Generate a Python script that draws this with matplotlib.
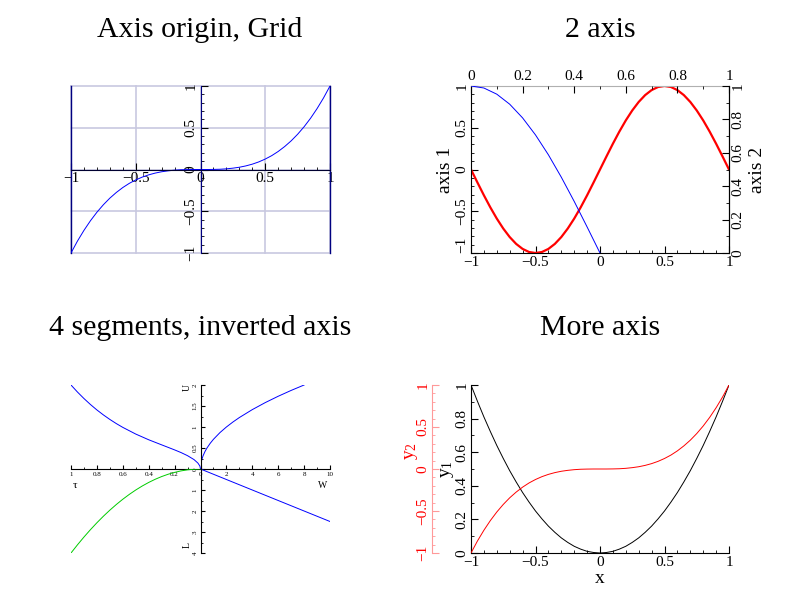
import numpy as np
import matplotlib.pyplot as plt
from matplotlib.ticker import AutoMinorLocator, FuncFormatter

plt.rcParams['font.family'] = ['Liberation Serif', 'DejaVu Serif']
plt.rcParams['mathtext.fontset'] = 'custom'
plt.rcParams['mathtext.rm'] = 'Liberation Serif'
plt.rcParams['mathtext.it'] = 'Liberation Serif:italic'
plt.rcParams['mathtext.default'] = 'regular'

# значення
x_full = np.linspace(-1, 1, 41)
cube_vals = [-1, -0.857, -0.729, -0.614, -0.512, -0.422, -0.343, -0.275, -0.216, -0.166, -0.125,
             -0.091, -0.064, -0.043, -0.027, -0.016, -0.008, -0.003, -0.001, 0, 0,
             0, 0.001, 0.003, 0.008, 0.016, 0.027, 0.043, 0.064, 0.091, 0.125,
             0.166, 0.216, 0.275, 0.343, 0.422, 0.512, 0.614, 0.729, 0.857, 1]
square_vals = [1, 0.903, 0.81, 0.723, 0.64, 0.563, 0.49, 0.423, 0.36, 0.303, 0.25,
               0.203, 0.16, 0.123, 0.09, 0.063, 0.04, 0.023, 0.01, 0.003, 0,
               0.003, 0.01, 0.023, 0.04, 0.063, 0.09, 0.123, 0.16, 0.203, 0.25,
               0.303, 0.36, 0.423, 0.49, 0.563, 0.64, 0.723, 0.81, 0.903, 1]

x_sin = np.linspace(-1, 1, 41)
sin_vals = [0, -0.156, -0.309, -0.454, -0.588, -0.707, -0.809, -0.891, -0.951, -0.988, -1,
            -0.988, -0.951, -0.891, -0.809, -0.707, -0.588, -0.454, -0.309, -0.156, 0,
            0.156, 0.309, 0.454, 0.588, 0.707, 0.809, 0.891, 0.951, 0.988, 1,
            0.988, 0.951, 0.891, 0.809, 0.707, 0.588, 0.454, 0.309, 0.156, 0]
x_cos = np.linspace(0, 0.5, 11)
cos_vals = [1, 0.988, 0.951, 0.891, 0.809, 0.707, 0.588, 0.454, 0.309, 0.156, 0]

# 4 сегменти
w_x = [0, 0.02, 0.05, 0.1, 0.2, 0.35, 0.5, 0.75, 1, 1.5, 2, 2.5, 3, 4, 5, 6, 7, 8]
u_vals = [0, 0.1, 0.158, 0.224, 0.316, 0.418, 0.5, 0.612, 0.707, 0.866, 1, 1.118, 1.225,
          1.414, 1.581, 1.732, 1.871, 2]
tau_x = [0, 0.005, 0.02, 0.05, 0.1, 0.15, 0.2, 0.3, 0.4, 0.5, 0.6, 0.65, 0.7, 0.75, 0.8,
         0.85, 0.9, 0.95, 1]
tau_vals = [0, 0.071, 0.141, 0.224, 0.317, 0.391, 0.455, 0.575, 0.696, 0.832, 0.991, 1.081,
            1.18, 1.288, 1.406, 1.536, 1.678, 1.832, 2]
l_x = [0, 10]
l_vals = [0, 2.5]
g_x = np.linspace(0, 1, 21)
g_vals = [0, 0.01, 0.04, 0.09, 0.16, 0.25, 0.36, 0.49, 0.64, 0.81, 1, 1.21, 1.44, 1.69,
          1.96, 2.25, 2.56, 2.89, 3.24, 3.61, 4]

ticks_pm1 = [-1, -0.5, 0, 0.5, 1]
ticks_01 = [0, 0.2, 0.4, 0.6, 0.8, 1]

W, H = 800, 600
def box(x0, y0, x1, y1):
    return [x0 / W, 1 - y1 / H, (x1 - x0) / W, (y1 - y0) / H]

fmt = FuncFormatter(lambda v, p: ('%g' % v).replace('-', '\u2212'))

fig = plt.figure(figsize=(8, 6), dpi=100)
tsize = 21.5
lsize = 11
asize = 14

def style(ax, minor_x=5, minor_y=5, size=lsize):
    ax.xaxis.set_major_formatter(fmt)
    ax.yaxis.set_major_formatter(fmt)
    ax.xaxis.set_minor_locator(AutoMinorLocator(minor_x))
    ax.yaxis.set_minor_locator(AutoMinorLocator(minor_y))
    ax.tick_params(which='both', direction='in', labelsize=size, pad=2)
    ax.tick_params(which='major', length=5)
    ax.tick_params(which='minor', length=2.5)
    ax.tick_params(axis='y', labelrotation=90)
    plt.setp(ax.get_yticklabels(), va='center')

# ---------- Axis origin, Grid ----------
ax1 = fig.add_axes(box(71, 86, 330, 253))
ax1.set_xlim(-1, 1)
ax1.set_ylim(-1, 1)
for v in ticks_pm1:
    ax1.axhline(v, color='#c8c8e0', lw=1.2, zorder=0, clip_on=False)
    ax1.axvline(v, color='#c8c8e0', lw=1.2, zorder=0, clip_on=False)
ax1.axvline(-1, color='#000080', lw=1, clip_on=False)
ax1.axvline(1, color='#000080', lw=1, clip_on=False)
for s in ['top', 'right']:
    ax1.spines[s].set_visible(False)
ax1.spines['left'].set_position(('data', 0))
ax1.spines['bottom'].set_position(('data', 0))
ax1.spines['left'].set_color('#000080')
ax1.spines['bottom'].set_color('#000030')
ax1.set_xticks(ticks_pm1)
ax1.set_yticks(ticks_pm1)
style(ax1)
ax1.plot(x_full, cube_vals, color='#0000ff', lw=0.7)
fig.text(200 / W, 1 - 30 / H, 'Axis origin, Grid', ha='center', va='center', fontsize=tsize)

# ---------- 2 axis ----------
ax2 = fig.add_axes(box(471, 86, 729, 253))
ax2.set_xlim(-1, 1)
ax2.set_ylim(-1, 1)
ax2.set_xticks(ticks_pm1)
ax2.set_yticks(ticks_pm1)
ax2.spines['top'].set_color('#b0b0b0')
style(ax2)
ax2.get_yticklabels()[0].set_va('bottom')
ax2.tick_params(top=False, right=False, which='both')
ax2.plot(x_sin, sin_vals, color='#ff0000', lw=1.6)
ax2.set_ylabel('axis 1', fontsize=asize, va='center', ha='center')
ax2.yaxis.set_label_coords(-0.097, 0.5)

ax2b = fig.add_axes(box(471, 86, 729, 253))
ax2b.patch.set_visible(False)
ax2b.set_xlim(0, 1)
ax2b.set_ylim(0, 1)
ax2b.xaxis.tick_top()
ax2b.yaxis.tick_right()
for s in ['left', 'bottom', 'top']:
    ax2b.spines[s].set_visible(False)
ax2b.set_xticks(ticks_01)
ax2b.set_yticks(ticks_01)
style(ax2b, 2, 2)
ax2b.plot(x_cos, cos_vals, color='#0000ff', lw=0.7)
ax2b.yaxis.set_label_position('right')
ax2b.set_ylabel('axis 2', fontsize=asize, va='center', ha='center', rotation=90)
ax2b.yaxis.set_label_coords(1.112, 0.5)
fig.text(600 / W, 1 - 30 / H, '2 axis', ha='center', va='center', fontsize=tsize)

# ---------- 4 segments, inverted axis ----------
cx, cy = 200.5, 469
ssize = 5
ur = fig.add_axes(box(cx, 385, 330, cy))
ul = fig.add_axes(box(71, 385, cx, cy))
lr = fig.add_axes(box(cx, cy, 330, 553))
ll = fig.add_axes(box(71, cy, cx, 553))
for a in [ur, ul, lr, ll]:
    a.patch.set_visible(False)
    for s in a.spines.values():
        s.set_visible(False)
    a.set_xticks([])
    a.set_yticks([])

ur.set_xlim(0, 10)
ur.set_ylim(0, 2)
ur.spines['left'].set_visible(True)
ur.spines['bottom'].set_visible(True)
ur.set_xticks([0, 2, 4, 6, 8, 10])
ur.set_yticks([0, 0.5, 1, 1.5, 2])
style(ur, 2, 2, ssize)
ur.tick_params(which='major', length=3)
ur.tick_params(which='minor', length=1.5)
ur.plot(w_x, u_vals, color='#0000ff', lw=0.7)
ur.text(0.94, -0.2, 'W', transform=ur.transAxes, ha='center', va='center', fontsize=7)
ur.text(-0.1, 0.97, 'U', transform=ur.transAxes, ha='center', va='center', fontsize=7, rotation=90)

ul.set_xlim(1, 0)
ul.set_ylim(0, 2)
ul.spines['bottom'].set_visible(True)
ul.set_xticks([1, 0.8, 0.6, 0.4, 0.2])
ul.xaxis.set_major_formatter(fmt)
ul.xaxis.set_minor_locator(AutoMinorLocator(2))
ul.tick_params(which='both', direction='in', labelsize=ssize, pad=2)
ul.tick_params(which='major', length=3)
ul.tick_params(which='minor', length=1.5)
ul.plot(tau_x, tau_vals, color='#0000ff', lw=0.7)
ul.text(0.03, -0.2, r'$\tau$', transform=ul.transAxes, ha='center', va='center', fontsize=8)

lr.set_xlim(0, 10)
lr.set_ylim(4, 0)
lr.spines['left'].set_visible(True)
lr.set_yticks([1, 2, 3, 4])
lr.yaxis.set_major_formatter(fmt)
lr.yaxis.set_minor_locator(AutoMinorLocator(2))
lr.tick_params(which='both', direction='in', labelsize=ssize, pad=2)
lr.tick_params(which='major', length=3)
lr.tick_params(which='minor', length=1.5)
lr.tick_params(axis='y', labelrotation=90)
plt.setp(lr.get_yticklabels(), va='center')
lr.plot(l_x, l_vals, color='#0000ff', lw=0.7)
lr.text(-0.1, 0.1, 'L', transform=lr.transAxes, ha='center', va='center', fontsize=7, rotation=90)

ll.set_xlim(1, 0)
ll.set_ylim(4, 0)
ll.plot(g_x, g_vals, color='#00cc00', lw=0.7)
fig.text(200 / W, 1 - 328 / H, '4 segments, inverted axis', ha='center', va='center', fontsize=tsize)

# ---------- More axis ----------
ax4 = fig.add_axes(box(471, 385, 729, 553))
ax4.set_xlim(-1, 1)
ax4.set_ylim(0, 1)
ax4.spines['top'].set_visible(False)
ax4.spines['right'].set_visible(False)
ax4.set_xticks(ticks_pm1)
ax4.set_yticks(ticks_01)
style(ax4, 5, 2)
ax4.plot(x_full, square_vals, color='black', lw=0.7)
ax4.set_xlabel('x', fontsize=asize, va='center')
ax4.xaxis.set_label_coords(0.5, -0.149)
ax4.set_ylabel('$y_1$', fontsize=asize, va='center', ha='center')
ax4.yaxis.set_label_coords(-0.093, 0.5)

ax4b = fig.add_axes(box(471, 385, 729, 553))
ax4b.patch.set_visible(False)
ax4b.set_xlim(-1, 1)
ax4b.set_ylim(-1, 1)
for s in ['top', 'right', 'bottom']:
    ax4b.spines[s].set_visible(False)
ax4b.spines['left'].set_position(('axes', -0.15))
ax4b.spines['left'].set_color('#ff9999')
ax4b.set_xticks([])
ax4b.set_yticks(ticks_pm1)
style(ax4b, 5, 5)
ax4b.tick_params(axis='y', which='both', color='#ff9999', labelcolor='#ff0000')
ax4b.plot(x_full, cube_vals, color='#ff0000', lw=0.7)
ax4b.set_ylabel('$y_2$', fontsize=asize, color='#ff0000', va='center', ha='center')
ax4b.yaxis.set_label_coords(-0.229, 0.607)
fig.text(600 / W, 1 - 328 / H, 'More axis', ha='center', va='center', fontsize=tsize)

fig.savefig('out.png', dpi=100)
